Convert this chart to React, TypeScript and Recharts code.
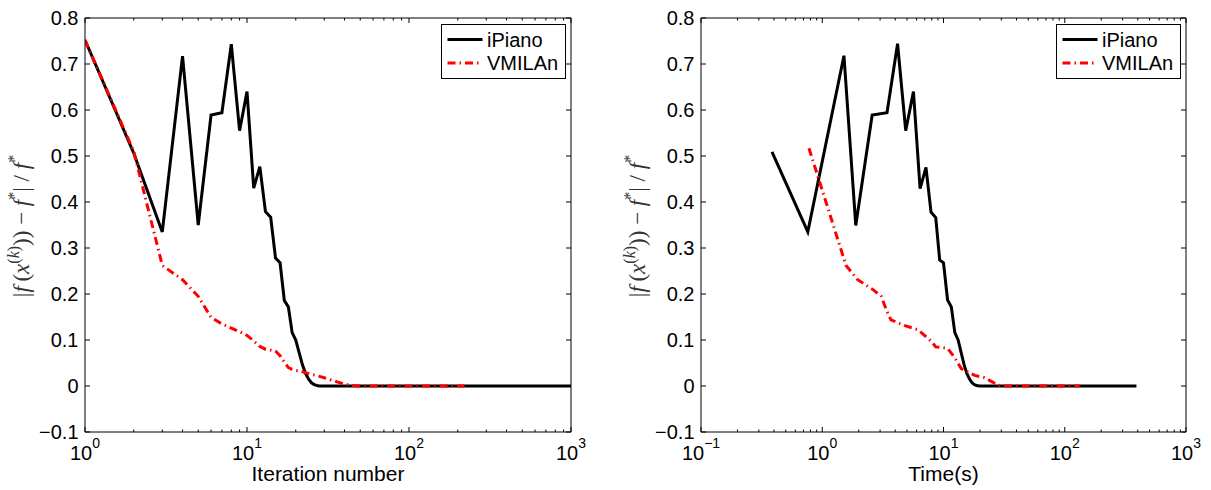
import React from 'react';
import { LineChart, Line, XAxis, YAxis, Legend } from 'recharts';

// ---------------- data ----------------
const iterIPianoK = [1, 2, 3, 4, 5, 6, 7, 8, 9, 10, 11, 12, 13, 14, 15, 16, 17, 18, 19, 20, 21, 22, 23, 24, 25, 26, 27, 28, 30, 40, 60, 100, 200, 400, 700, 1000];
const iterIPianoVal = [0.752, 0.506, 0.335, 0.717, 0.35, 0.589, 0.594, 0.743, 0.555, 0.64, 0.43, 0.477, 0.379, 0.367, 0.278, 0.268, 0.186, 0.172, 0.116, 0.1, 0.072, 0.046, 0.027, 0.015, 0.007, 0.003, 0.001, 0, 0, 0, 0, 0, 0, 0, 0, 0];

const iterVmilanK = [1, 2, 3, 4, 5, 6, 7, 8, 9, 10, 11, 12, 13, 14, 15, 16, 17, 18, 19, 20, 22, 24, 26, 28, 30, 33, 36, 40, 45, 50, 70, 100, 150, 220];
const iterVmilanVal = [0.752, 0.51, 0.262, 0.231, 0.195, 0.149, 0.135, 0.126, 0.118, 0.11, 0.098, 0.086, 0.08, 0.078, 0.076, 0.066, 0.052, 0.04, 0.036, 0.034, 0.031, 0.027, 0.024, 0.021, 0.018, 0.013, 0.009, 0.004, 0.001, 0, 0, 0, 0, 0];

const timeIPianoT = [0.385, 0.76, 1.51, 1.89, 2.58, 3.42, 4.18, 4.88, 5.65, 6.41, 7.17, 7.89, 8.63, 9.3, 10.0, 10.8, 11.6, 12.4, 13.2, 14.0, 14.8, 15.6, 16.4, 17.2, 18.0, 18.8, 19.6, 30, 60, 100, 200, 390];
const timeIPianoVal = [0.509, 0.335, 0.718, 0.349, 0.589, 0.594, 0.744, 0.555, 0.64, 0.429, 0.475, 0.378, 0.366, 0.274, 0.268, 0.187, 0.172, 0.116, 0.1, 0.072, 0.046, 0.027, 0.015, 0.007, 0.003, 0.001, 0, 0, 0, 0, 0, 0];

const timeVmilanT = [0.777, 1.57, 1.96, 2.64, 3.06, 3.42, 3.68, 4.6, 6.18, 8.0, 8.63, 10.8, 12.5, 14.0, 18.1, 21.8, 25.2, 28.2, 32.5, 60, 100, 133];
const timeVmilanVal = [0.517, 0.262, 0.231, 0.209, 0.195, 0.162, 0.144, 0.133, 0.122, 0.096, 0.085, 0.082, 0.06, 0.038, 0.023, 0.018, 0.009, 0.002, 0, 0, 0, 0];

const yTicks = [-0.1, 0, 0.1, 0.2, 0.3, 0.4, 0.5, 0.6, 0.7, 0.8];
const iterTicks = [1, 2, 3, 4, 5, 6, 7, 8, 9, 10, 20, 30, 40, 50, 60, 70, 80, 90, 100, 200, 300, 400, 500, 600, 700, 800, 900, 1000];
const timeTicks = [0.1, 0.2, 0.3, 0.4, 0.5, 0.6, 0.7, 0.8, 0.9, 1, 2, 3, 4, 5, 6, 7, 8, 9, 10, 20, 30, 40, 50, 60, 70, 80, 90, 100, 200, 300, 400, 500, 600, 700, 800, 900, 1000];

const seriesNames = ['iPiano', 'VMILAn'];
const xTitles = ['Iteration number', 'Time(s)'];

// ---------------- styles ----------------
const SANS = '"Liberation Sans", Arial, Helvetica, sans-serif';
const SERIF = '"Liberation Serif", "Times New Roman", serif';
const STYLE: Record<string, { color: string; dash?: string }> = {
  iPiano: { color: '#000000' },
  VMILAn: { color: '#ff0000', dash: '8 4 1.5 4' },
};
const MAJOR = 5;
const MINOR = 2.5;

const toPoints = (xs: number[], ys: number[]) => xs.map((x, i) => ({ x, y: ys[i] }));
const isDecade = (v: number) => Math.abs(Math.log10(v) - Math.round(Math.log10(v))) < 1e-6;

const XTickBottom = (props: any) => {
  const { x, y, payload } = props;
  const v = payload.value as number;
  const major = isDecade(v);
  const e = Math.round(Math.log10(v));
  const exp = e < 0 ? '\u2212' + Math.abs(e) : String(e);
  return (
    <g>
      <line x1={x} x2={x} y1={y} y2={y - (major ? MAJOR : MINOR)} stroke="#000" strokeWidth={1} />
      {major && (
        <text x={x} y={y + 28} textAnchor="middle" fontFamily={SANS} fontSize={20} fill="#000">
          <tspan>10</tspan>
          <tspan dy={-12} fontSize={14}>{exp}</tspan>
        </text>
      )}
    </g>
  );
};

const XTickTop = (props: any) => {
  const { x, y, payload } = props;
  const major = isDecade(payload.value as number);
  return <line x1={x} x2={x} y1={y} y2={y + (major ? MAJOR : MINOR)} stroke="#000" strokeWidth={1} />;
};

const YTickLeft = (props: any) => {
  const { x, y, payload } = props;
  const v = payload.value as number;
  const s = Math.abs(v) < 1e-9 ? '0' : v < 0 ? '\u2212' + Math.abs(v).toFixed(1) : v.toFixed(1);
  return (
    <g>
      <line x1={x} x2={x + MAJOR} y1={y} y2={y} stroke="#000" strokeWidth={1} />
      <text x={x - 6.5} y={y} dy="0.36em" textAnchor="end" fontFamily={SANS} fontSize={20} fill="#000">
        {s}
      </text>
    </g>
  );
};

const YTickRight = (props: any) => {
  const { x, y } = props;
  return <line x1={x} x2={x - MAJOR} y1={y} y2={y} stroke="#000" strokeWidth={1} />;
};

const YLabel = (props: any) => {
  const vb = props.viewBox;
  const cx = vb.x + vb.width - 56;
  const cy = vb.y + vb.height / 2 + 1;
  const sup = 16;
  const up = -10;
  return (
    <text transform={`translate(${cx},${cy}) rotate(-90)`} textAnchor="middle" fontFamily={SERIF} fontSize={23} fill="#333">
      <tspan>|</tspan>
      <tspan fontStyle="italic">f</tspan>
      <tspan>{'\u2009('}</tspan>
      <tspan fontStyle="italic">x</tspan>
      <tspan fontSize={sup} dy={up}>(</tspan>
      <tspan fontSize={sup} fontStyle="italic">k</tspan>
      <tspan fontSize={sup}>)</tspan>
      <tspan dy={-up}>{')) \u2212 '}</tspan>
      <tspan fontStyle="italic">f</tspan>
      <tspan fontSize={sup} dy={up}>*</tspan>
      <tspan dy={-up}>{'| / '}</tspan>
      <tspan fontStyle="italic">f</tspan>
      <tspan fontSize={sup} dy={up}>*</tspan>
    </text>
  );
};

const makeXLabel = (title: string) => (props: any) => {
  const vb = props.viewBox;
  return (
    <text x={vb.x + vb.width / 2} y={vb.y + 49} textAnchor="middle" fontFamily={SANS} fontSize={21} fill="#000">
      {title}
    </text>
  );
};

const LegendBox = (props: any) => {
  const payload = [...(props.payload || [])].sort(
    (p: any, q: any) => seriesNames.indexOf(p.value) - seriesNames.indexOf(q.value)
  );
  return (
    <svg width={125} height={55} style={{ display: 'block' }}>
      <rect x={0.5} y={0.5} width={124} height={54} fill="#fff" stroke="#000" strokeWidth={1} />
      {payload.map((e: any, i: number) => {
        const st = STYLE[e.value] || { color: e.color };
        const ly = 15.5 + i * 23.4;
        return (
          <g key={e.value}>
            <line x1={6.5} x2={41.5} y1={ly} y2={ly} stroke={st.color} strokeWidth={3} strokeDasharray={st.dash} />
            <text x={46} y={ly + 7} fontFamily={SANS} fontSize={20} fill="#000">
              {e.value}
            </text>
          </g>
        );
      })}
    </svg>
  );
};

type PanelProps = {
  left: number;
  width: number;
  mLeft: number;
  mRight: number;
  domain: [number, number];
  ticks: number[];
  a: { x: number; y: number }[];
  b: { x: number; y: number }[];
  title: string;
  legendLeft: number;
};

function Panel({ left, width, mLeft, mRight, domain, ticks, a, b, title, legendLeft }: PanelProps) {
  const common = {
    type: 'number' as const,
    dataKey: 'x',
    scale: 'log' as const,
    domain,
    allowDataOverflow: true,
    interval: 0 as const,
    height: 1,
    stroke: '#000',
    tickLine: false,
    tickSize: 0,
    tickMargin: 0,
    ticks,
  };
  const ycommon = {
    type: 'number' as const,
    domain: [-0.1, 0.8] as [number, number],
    allowDataOverflow: true,
    ticks: yTicks,
    interval: 0 as const,
    width: 1,
    stroke: '#000',
    tickLine: false,
    tickSize: 0,
    tickMargin: 0,
  };
  return (
    <div style={{ position: 'absolute', left, top: 0 }}>
      <LineChart width={width} height={490} margin={{ top: 17, right: mRight - 1, bottom: 57, left: mLeft - 1 }}>
        <XAxis {...common} xAxisId="b" orientation="bottom" tick={<XTickBottom />} label={{ content: makeXLabel(title) }} />
        <XAxis {...common} xAxisId="t" orientation="top" tick={<XTickTop />} />
        <YAxis {...ycommon} yAxisId="l" orientation="left" tick={<YTickLeft />} label={{ content: (p: any) => <YLabel {...p} /> }} />
        <YAxis {...ycommon} yAxisId="r" orientation="right" tick={<YTickRight />} />
        <Legend
          layout="vertical"
          align="center"
          verticalAlign="middle"
          content={<LegendBox />}
          wrapperStyle={{ left: legendLeft, top: 23.5, width: 125, height: 55, margin: 0, padding: 0 }}
        />
        <Line xAxisId="b" yAxisId="l" data={a} dataKey="y" name={seriesNames[0]} type="linear" stroke={STYLE.iPiano.color} strokeWidth={3} dot={false} activeDot={false} isAnimationActive={false} />
        <Line xAxisId="b" yAxisId="l" data={b} dataKey="y" name={seriesNames[1]} type="linear" stroke={STYLE.VMILAn.color} strokeWidth={3} strokeDasharray={STYLE.VMILAn.dash} dot={false} activeDot={false} isAnimationActive={false} />
      </LineChart>
    </div>
  );
}

export default function App() {
  return (
    <div style={{ position: 'absolute', left: 0, top: 0, width: 1211, height: 490, background: '#fff' }}>
      <Panel
        left={0}
        width={605}
        mLeft={85}
        mRight={34}
        domain={[1, 1000]}
        ticks={iterTicks}
        a={toPoints(iterIPianoK, iterIPianoVal)}
        b={toPoints(iterVmilanK, iterVmilanVal)}
        title={xTitles[0]}
        legendLeft={440.5}
      />
      <Panel
        left={605}
        width={606}
        mLeft={96}
        mRight={25}
        domain={[0.1, 1000]}
        ticks={timeTicks}
        a={toPoints(timeIPianoT, timeIPianoVal)}
        b={toPoints(timeVmilanT, timeVmilanVal)}
        title={xTitles[1]}
        legendLeft={450.5}
      />
    </div>
  );
}
